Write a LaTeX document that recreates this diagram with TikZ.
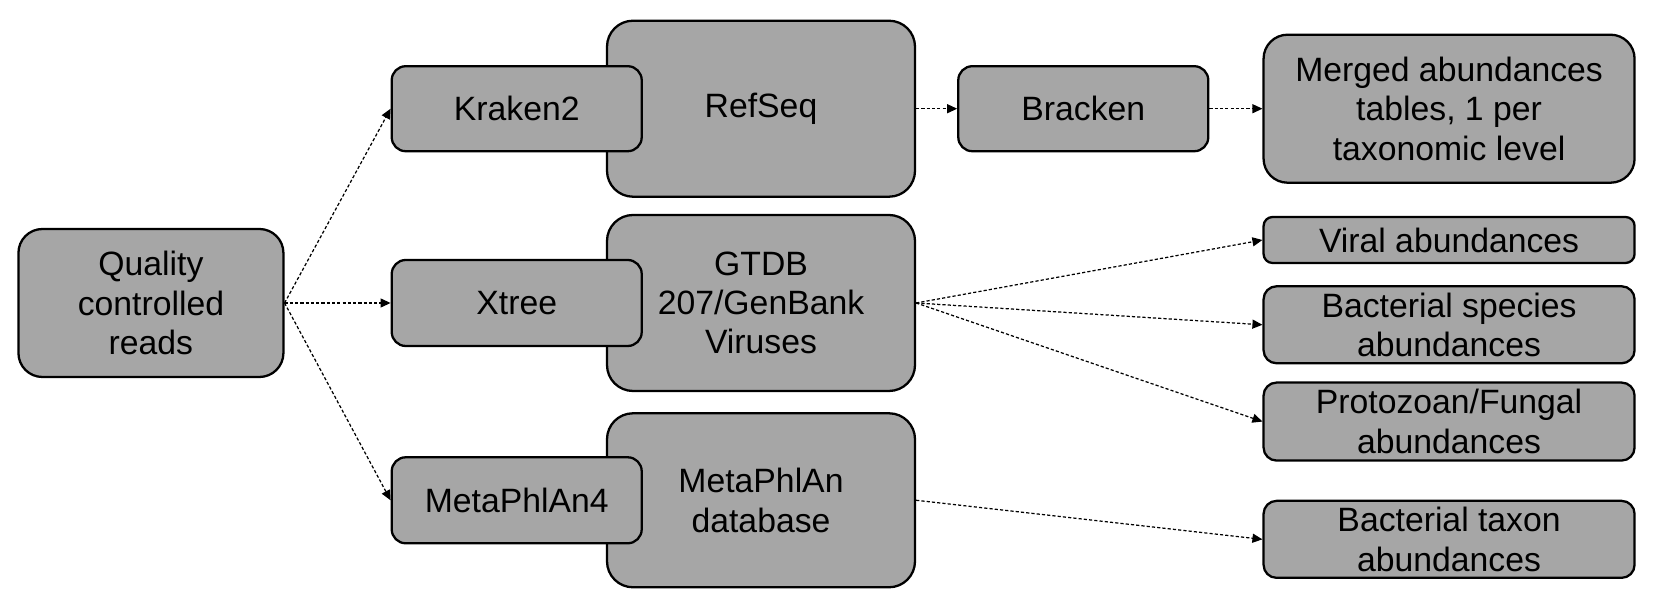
\documentclass[tikz,border=0pt]{standalone}
\usepackage{fontspec}
\setmainfont{Liberation Sans}
\usetikzlibrary{arrows.meta,positioning}
\definecolor{boxgray}{RGB}{166,166,166}

\begin{document}
\begin{tikzpicture}[
  node distance=0.2cm and 0.4cm,
  box/.style={draw, fill=boxgray, line width=0.65pt, align=center, inner sep=0pt,
              font=\fontsize{9.6}{11.2}\selectfont},
  db/.style={box, rounded corners=2.6mm, minimum width=3.08cm, minimum height=1.76cm},
  tool/.style={box, rounded corners=1.4mm, minimum width=2.5cm, minimum height=0.86cm},
  result/.style={box, rounded corners=1.3mm, minimum width=3.71cm, minimum height=0.77cm},
  arr/.style={-{Triangle[length=1mm,width=0.9mm]}, dash pattern=on 0.9pt off 0.6pt,
              line width=0.35pt}
]
\useasboundingbox (0,0) rectangle (16.6,-6.1);

% databases first, the tools sit on top of them
\node[db] (gtdb) at (7.61,-3.03) {GTDB\\207/GenBank\\Viruses};
\node[db, above=0.16cm of gtdb] (refseq) {RefSeq};
\node[db, below=0.2cm of gtdb, minimum height=1.74cm] (mpadb) {MetaPhlAn\\database};

\node[tool, left=-0.37cm of gtdb] (xtree) {Xtree};
\node[tool, left=-0.37cm of refseq, minimum height=0.85cm] (kraken) {Kraken2};
\node[tool, left=-0.37cm of mpadb] (mpa4) {MetaPhlAn4};

\node[box, left=1.06cm of xtree, rounded corners=2.4mm,
      minimum width=2.65cm, minimum height=1.48cm] (qc) {Quality\\controlled\\reads};

\node[tool, right=0.41cm of refseq, minimum height=0.85cm] (bracken) {Bracken};
\node[result, right=0.53cm of bracken, rounded corners=2.4mm,
      minimum height=1.48cm] (merged) {Merged abundances\\tables, 1 per\\taxonomic level};

\node[result, below=0.32cm of merged, rounded corners=0.9mm,
      minimum height=0.46cm] (viral) {Viral abundances};
\node[result, below=0.21cm of viral] (bspec) {Bacterial species\\abundances};
\node[result, below=0.17cm of bspec, minimum height=0.78cm] (proto) {Protozoan/Fungal\\abundances};
\node[result, below=0.38cm of proto] (btax) {Bacterial taxon\\abundances};

\draw[arr] (qc.east) -- (kraken.west);
\draw[arr] (qc.east) -- (xtree.west);
\draw[arr] (qc.east) -- (mpa4.west);
\draw[arr] (refseq) -- (bracken);
\draw[arr] (bracken) -- (merged);
\draw[arr] (gtdb.east) -- (viral.west);
\draw[arr] (gtdb.east) -- (bspec.west);
\draw[arr] (gtdb.east) -- (proto.west);
\draw[arr] (mpadb.east) -- (btax.west);
\end{tikzpicture}
\end{document}
